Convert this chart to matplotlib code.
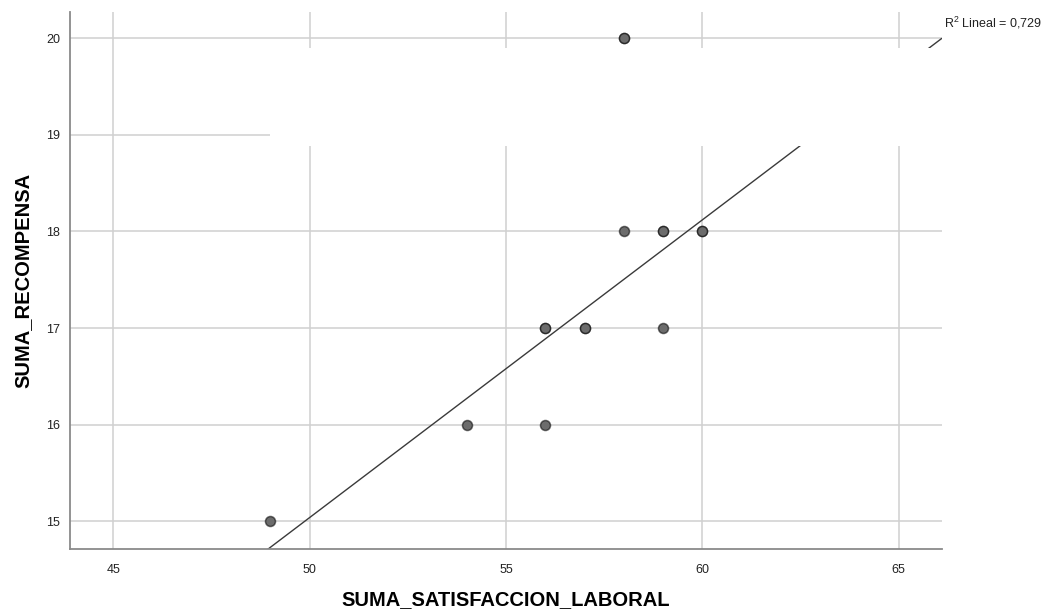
import matplotlib
matplotlib.use("Agg")
import matplotlib.pyplot as plt
from matplotlib.patches import Rectangle

plt.rcParams['font.family'] = ['Liberation Sans', 'DejaVu Sans']
plt.rcParams['mathtext.default'] = 'regular'

# Observations (duplicates stacked on the same spot)
satisfaccion = [49, 54, 56, 56, 57, 59, 58, 59, 60, 58]
recompensa = [15, 16, 16, 17, 17, 17, 18, 18, 18, 20]
repeticiones = [1, 1, 1, 2, 2, 1, 1, 2, 2, 2]

# Linear fit
pendiente = 0.308
intercepto = -0.36
r2_lineal = "0,729"

x_ticks = [45, 50, 55, 60, 65]
y_ticks = [15, 16, 17, 18, 19, 20]

fig = plt.figure(figsize=(10.48, 6.10), dpi=100)
ax = fig.add_axes([70 / 1048, 1 - 549 / 610, 872 / 1048, 537 / 610])

ax.set_xlim(43.9, 66.1)
ax.set_ylim(14.715, 20.27)
ax.set_xticks(x_ticks)
ax.set_yticks(y_ticks)
ax.grid(True, color='#d0d0d0', linewidth=1.1, zorder=0)
ax.set_axisbelow(True)

for side in ('top', 'right'):
    ax.spines[side].set_visible(False)
for side in ('left', 'bottom'):
    ax.spines[side].set_color('#8a8a8a')
    ax.spines[side].set_linewidth(1.3)

ax.tick_params(axis='both', length=0, labelsize=9, labelcolor='#222222')
ax.tick_params(axis='x', pad=11)
ax.tick_params(axis='y', pad=7)

# Fit line across the horizontal range
x0, x1 = ax.get_xlim()
ax.plot([x0, x1], [intercepto + pendiente * x0, intercepto + pendiente * x1],
        color='#3a3a3a', linewidth=1.0, zorder=2, solid_capstyle='butt')

# Blank panel reserved for the fit annotation
ax.add_patch(Rectangle((0.2294, 0.7505), 1 - 0.2294, 0.1825, transform=ax.transAxes,
                       facecolor='white', edgecolor='none', zorder=3,
                       clip_on=False))

for xv, yv, n in zip(satisfaccion, recompensa, repeticiones):
    for _ in range(n):
        ax.scatter([xv], [yv], s=52, facecolor='#6c6c6c',
                   edgecolor=(0, 0, 0, 0.55), linewidth=1.1, zorder=4)

ax.set_xlabel('SUMA_SATISFACCION_LABORAL', fontsize=14.5, fontweight='bold')
ax.set_ylabel('SUMA_RECOMPENSA', fontsize=14.5, fontweight='bold')
ax.xaxis.set_label_coords(0.5, (549 - 600) / 537)
ax.yaxis.set_label_coords((23 - 70) / 872, 0.5)
ax.xaxis.label.set_va('center')
ax.yaxis.label.set_va('center')

fig.text(944 / 1048, 1 - 23 / 610, 'R$^{2}$ Lineal = ' + r2_lineal,
         fontsize=9, ha='left', va='center', color='#222222')

fig.savefig('out.png', dpi=100, facecolor='white')
